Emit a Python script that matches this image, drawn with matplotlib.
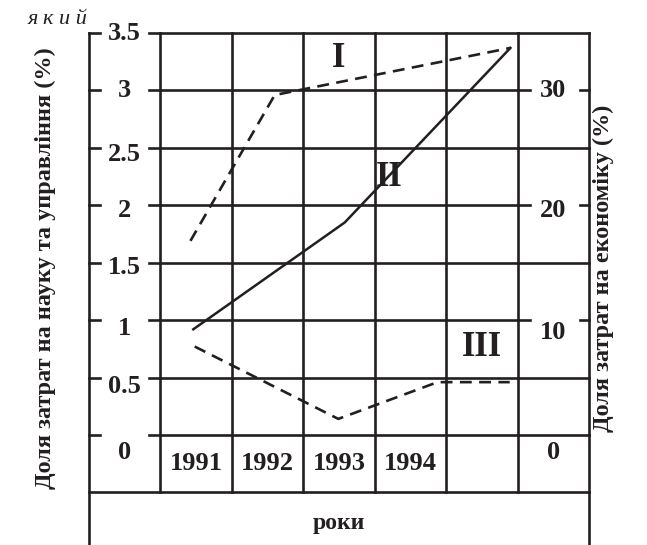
import numpy as np
import matplotlib.pyplot as plt

# ===================== data =====================
years = ["1991", "1992", "1993", "1994", ""]
left_ticks = [0, 0.5, 1, 1.5, 2, 2.5, 3, 3.5]
left_tick_labels = ["0", "0.5", "1", "1.5", "2", "2.5", "3", "3.5"]
right_ticks = [0, 10, 20, 30]
right_tick_labels = ["0", "10", "20", "30"]

# x in column units (column i = year i, from i to i+1)
line1_x = [0.42, 1.60, 4.90]
line1_y = [1.69, 2.96, 3.37]          # left axis, %
line2_x = [0.46, 2.58, 4.90]
line2_y = [9.2, 18.5, 33.7]           # right axis, %
line3_x = [0.48, 2.49, 3.88, 4.89]
line3_y = [0.77, 0.14, 0.46, 0.46]    # left axis, %

INK = "#231f20"
FONT = "Liberation Serif"

# ===================== figure =====================
fig = plt.figure(figsize=(6.47, 5.45), dpi=100)
ax = fig.add_axes([89 / 647, 0, 500 / 647, 512 / 545])
ax.set_xlim(-1, 6)
ymin = -0.958
ax.set_ylim(ymin, 3.5)
ax.axis("off")

ax2 = ax.twinx()
ax2.set_ylim(ymin * 10, 35)
ax2.axis("off")

lw_grid = 1.9
kw = dict(color=INK, lw=lw_grid, clip_on=False, solid_capstyle="projecting")

# table grid
for x in range(0, 6):
    ax.plot([x, x], [-0.5, 3.5], **kw)
for x in [-1, 6]:
    ax.plot([x, x], [ymin, 3.5], **kw)
for v in left_ticks:
    ax.plot([0, 5], [v, v], **kw)
    # left label column: short stubs leaving room for the label
    ax.plot([-1, -0.85], [v, v], **kw)
    ax.plot([-0.16, 0], [v, v], **kw)
    if v in (1, 2, 3):
        ax.plot([5, 5.17], [v, v], **kw)
        ax.plot([5.87, 6], [v, v], **kw)
    else:
        ax.plot([5, 6], [v, v], **kw)
ax.plot([-1, 6], [-0.5, -0.5], **kw)

# data lines
ax.plot(line1_x, line1_y, color=INK, lw=1.9, dashes=(4.5, 2.8), clip_on=False)
ax2.plot(line2_x, line2_y, color=INK, lw=1.8, clip_on=False)
ax.plot(line3_x, line3_y, color=INK, lw=1.9, dashes=(4.5, 2.8), clip_on=False)

tfont = dict(family=FONT, fontweight="bold", color=INK)

# tick labels inside the table
left_off = [0.15, 0.08, 0.07, 0.045, 0.045, 0.06, 0.0, 0.0]
for v, lab, off in zip(left_ticks, left_tick_labels, left_off):
    ax.text(-0.5, v - off, lab, ha="center", va="center", fontsize=19, **tfont)
right_off = [1.5, 1.05, 0.45, 0.0]
for v, lab, off in zip(right_ticks, right_tick_labels, right_off):
    ax2.text(5.5, v - off, lab, ha="center", va="center", fontsize=19, **tfont)
for i, yr in enumerate(years):
    ax.text(i + 0.5, -0.245, yr, ha="center", va="center", fontsize=19, **tfont)
ax.text(2.5, -0.77, "роки", ha="center", va="center", fontsize=17, **tfont)

# curve labels
ax.text(2.5, 3.28, "I", ha="center", va="center", fontsize=25, **tfont)
ax.text(3.2, 2.24, "II", ha="center", va="center", fontsize=25, **tfont)
ax.text(4.5, 0.76, "III", ha="center", va="center", fontsize=25, **tfont)

# axis titles
fig.text(45 / 647, 1 - 268 / 545, "Доля затрат на науку та управління (%)",
         rotation=90, ha="center", va="center", fontsize=17.5, **tfont)
fig.text(603 / 647, 1 - 268 / 545, "Доля затрат на економіку (%)",
         rotation=90, ha="center", va="center", fontsize=17.5, **tfont)
fig.text(58 / 647, 1 - 20 / 545, "я к и й", ha="center", va="center",
         fontsize=16, family=FONT, style="italic", color=INK)

fig.savefig("out.png", dpi=100)
